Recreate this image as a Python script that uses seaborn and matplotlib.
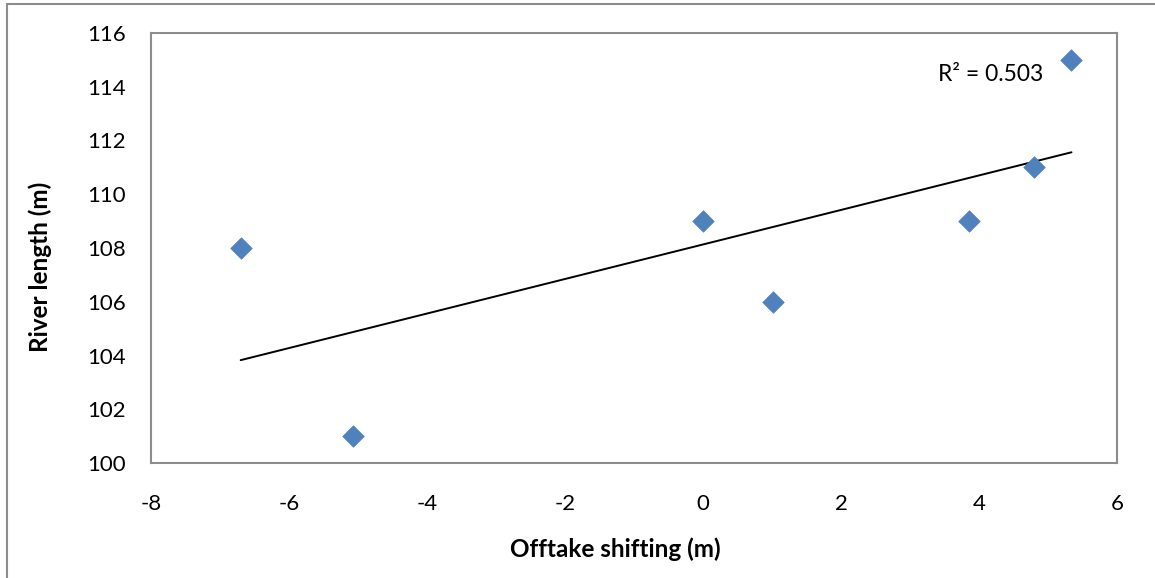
import matplotlib
matplotlib.use("Agg")
import matplotlib.pyplot as plt
from matplotlib.lines import Line2D
import numpy as np
import pandas as pd
import seaborn as sns

# Measurements: offtake shift vs. river length
offtake_shift = [-6.7, -5.07, 0.0, 1.02, 3.85, 4.8, 5.34]
river_length = [108, 101, 109, 106, 109, 111, 115]
r2_label = "R² = 0.503"

x_ticks = [-8, -6, -4, -2, 0, 2, 4, 6]
y_ticks = [100, 102, 104, 106, 108, 110, 112, 114, 116]

df = pd.DataFrame({"shift": offtake_shift, "length": river_length})

sns.set_theme(style="white")
plt.rcParams["font.family"] = ["Lato", "DejaVu Sans"]
plt.rcParams["axes.unicode_minus"] = False

FS = 16
FS_LABEL = 17.5

fig = plt.figure(figsize=(11.55, 5.78), dpi=100)
ax = fig.add_axes([151 / 1155, 1 - 463 / 578, (1117 - 151) / 1155, (463 - 33) / 578])

# Linear trendline over the data range
sns.regplot(data=df, x="shift", y="length", ax=ax, ci=None, scatter=False,
            truncate=True, line_kws={"color": "black", "linewidth": 1.4})
sns.scatterplot(data=df, x="shift", y="length", ax=ax, marker="D", s=120,
                color="#4F81BD", edgecolor="#4F81BD", linewidth=0.5, zorder=3)

ax.set_xlim(-8, 6)
ax.set_ylim(100, 116)
ax.set_xticks(x_ticks)
ax.set_yticks(y_ticks)
ax.tick_params(axis="both", length=0, labelsize=FS, colors="black")
ax.tick_params(axis="x", pad=22)
ax.tick_params(axis="y", pad=18)

for s in ax.spines.values():
    s.set_visible(True)
    s.set_color("#8c8c8c")
    s.set_linewidth(1.5)

ax.set_xlabel("Offtake shifting (m)", fontsize=FS_LABEL, fontweight="bold", color="black")
ax.set_ylabel("River length (m)", fontsize=FS_LABEL, fontweight="bold", color="black")
ax.xaxis.set_label_coords(0.481, -0.172)
ax.yaxis.set_label_coords(-0.1025, 0.456)

ax.text(3.41, 114.45, r2_label, fontsize=16.5, ha="left", va="center", color="black")

# Outer chart frame (left and top edges)
fig.add_artist(Line2D([7 / 1155, 7 / 1155], [0, 1 - 4 / 578], transform=fig.transFigure,
                      color="#8c8c8c", linewidth=1.5))
fig.add_artist(Line2D([7 / 1155, 1], [1 - 4 / 578, 1 - 4 / 578], transform=fig.transFigure,
                      color="#8c8c8c", linewidth=1.5))

fig.savefig("out.png", dpi=100)
